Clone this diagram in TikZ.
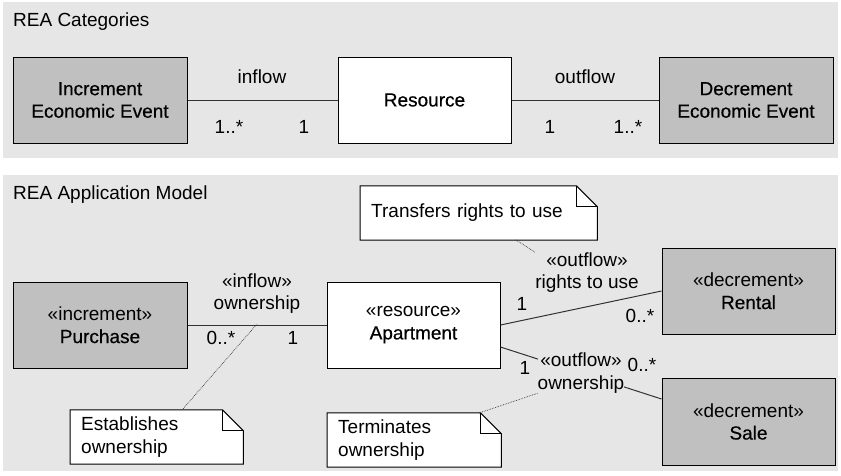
\documentclass[tikz,border=0pt]{standalone}
\usepackage{fontspec}
\setmainfont{Liberation Sans}
\newfontfamily\namefont[FakeBold=0.5]{Liberation Sans}
\usetikzlibrary{backgrounds}
\definecolor{panelgray}{RGB}{230,230,230}
\definecolor{boxgray}{RGB}{192,192,192}
\definecolor{linegray}{RGB}{50,50,50}
\tikzset{
  txt/.style={font=\fontsize{19}{22.5}\selectfont, inner sep=0pt, align=center},
  cls/.style={txt, draw=black, line width=1pt, minimum width=174pt, minimum height=86pt},
  event/.style={cls, fill=boxgray},
  res/.style={cls, fill=white},
  assoc/.style={draw=linegray, line width=1pt},
  notetext/.style={txt, align=left, anchor=west},
  noteref/.style={draw=black!80, line width=0.7pt, densely dotted},
  panel/.style={fill=panelgray, draw=none},
  lbl/.style={txt},
}
% class name set a little heavier than the surrounding labels
\newcommand{\cname}[1]{{\namefont #1}}
% dog-eared note outline around a named node
\newcommand{\notepaper}[1]{%
  \begin{scope}[on background layer]
    \draw[fill=white, line width=1pt]
      (#1.north west) -- ([xshift=-21pt]#1.north east)
      -- ([yshift=-21pt]#1.north east) -- (#1.south east)
      -- (#1.south west) -- cycle;
    \draw[line width=1pt] ([xshift=-21pt]#1.north east)
      -- ([xshift=-21pt,yshift=-21pt]#1.north east)
      -- ([yshift=-21pt]#1.north east);
  \end{scope}}
\begin{document}
\begin{tikzpicture}[x=1pt, y=-1pt]
\useasboundingbox (0,0) rectangle (841,475);

% panels
\begin{scope}[on background layer]
  \fill[panel] (3,2) rectangle (838,158);
  \fill[panel] (3,175) rectangle (838,471);
\end{scope}

% ---- REA Categories ----
\node[txt, anchor=west] (cattitle) at (13,22) {REA Categories};
\node[event] (inc) at (100,100) {\cname{Increment}\\\cname{Economic Event}};
\node[res, minimum width=173pt] (resrc) at (424.5,100) {\cname{Resource}};
\node[event] (dec) at (746,100) {\cname{Decrement}\\\cname{Economic Event}};

\draw[assoc] (inc) -- (resrc);
\draw[assoc] (resrc) -- (dec);
\node[lbl] (inflowlbl) at (262,77) {inflow};
\node[lbl] (incmult) at (229,127) {1..*};
\node[lbl] (resmultin) at (304,127) {1};
\node[lbl] (outflowlbl) at (585,77) {outflow};
\node[lbl] (resmultout) at (550,127) {1};
\node[lbl] (decmult) at (628,127) {1..*};

% ---- REA Application Model ----
\node[txt, anchor=west] (apptitle) at (13,195) {REA Application Model};
\node[event] (pur) at (100,325) {«increment»\\\cname{Purchase}};
\node[res, minimum width=173pt] (apt) at (413.5,325) {«resource»\\\cname{Apartment}};
\node[event, minimum width=173pt] (rent) at (748.5,291) {«decrement»\\\cname{Rental}};
\node[event, minimum width=173pt, minimum height=87pt] (sale) at (748.5,421.5) {«decrement»\\\cname{Sale}};

% associations
\draw[assoc] (pur.east) -- (apt.west);
\draw[assoc] (apt.east) -- (rent.west);
\draw[assoc] ([yshift=-22pt]apt.east) -- ([yshift=22.5pt]sale.west);

\node[lbl] (inown) at (257,293.5) {«inflow»\\ownership};
\node[lbl] (purmult) at (221,338) {0..*};
\node[lbl] (aptmultin) at (293,338) {1};

\node[lbl] (rentuse) at (587,272.5) {«outflow»\\rights to use};
\node[lbl] (aptmultrent) at (522,304) {1};
\node[lbl] (rentmult) at (640,316) {0..*};

\node[lbl, fill=panelgray] (outown) at (581,373) {«outflow»\\ownership};
\node[lbl] (aptmultsale) at (525,368) {1};
\node[lbl] (salemult) at (642,365) {0..*};

% notes
\node[notetext, minimum width=237pt, minimum height=54pt, text width=215pt] (ntrans) at (360,213) {Transfers rights to use};
\node[notetext, minimum width=173pt, minimum height=54pt, text width=151pt] (nestab) at (70,437) {Establishes\\ownership};
\node[notetext, minimum width=174pt, minimum height=54pt, text width=152pt] (nterm) at (327,440) {Terminates\\ownership};
\notepaper{ntrans}
\notepaper{nestab}
\notepaper{nterm}

% note anchors
\coordinate (estabpt) at (257,324);
\draw[noteref] (182,410) -- (estabpt);
\draw[noteref] (516,240) -- (rentuse.north west);
\draw[noteref] (479,413) -- (outown.south west);
\end{tikzpicture}
\end{document}
